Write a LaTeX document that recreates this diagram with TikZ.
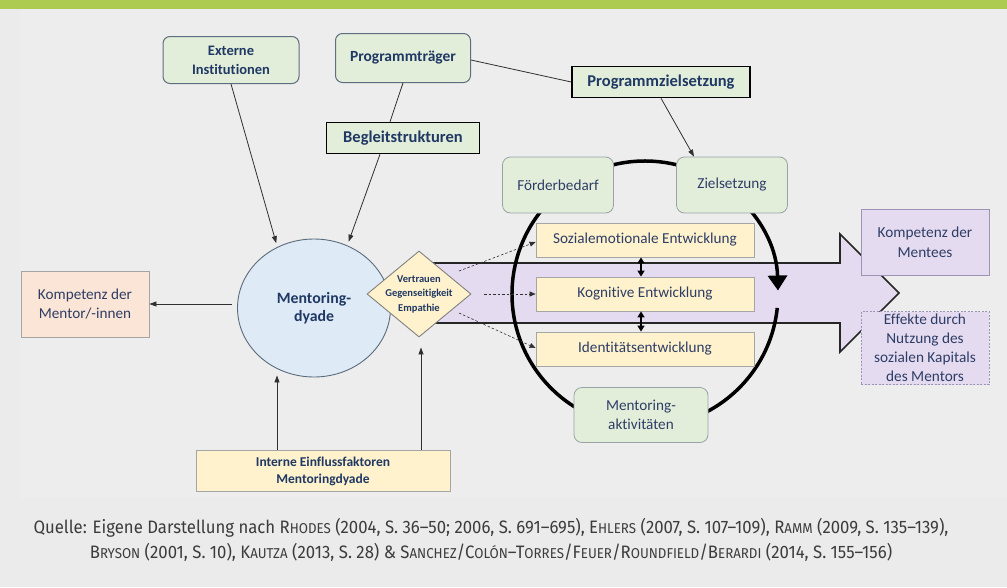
\documentclass[tikz,border=0pt]{standalone}
\usepackage{fontspec}
\setmainfont[Ligatures=NoCommon]{Carlito}
\newfontfamily\capfont[FakeStretch=0.93]{Fira Sans}
\usetikzlibrary{arrows.meta,shapes.geometric}
\definecolor{bgc}{HTML}{EBEBEB}
\definecolor{panel}{HTML}{EDEDED}
\definecolor{topbar}{HTML}{AECB51}
\definecolor{dk}{HTML}{1F3864}
\definecolor{tx}{HTML}{2E3D66}
\definecolor{grfill}{HTML}{E3EEDA}
\definecolor{grline}{HTML}{5E6E80}
\definecolor{grline2}{HTML}{98A3A6}
\definecolor{yel}{HTML}{FFF2CC}
\definecolor{yelline}{HTML}{A5A5A5}
\definecolor{blu}{HTML}{DEEBF7}
\definecolor{bluline}{HTML}{5B6B7B}
\definecolor{purp}{HTML}{E5DBF0}
\definecolor{purpline}{HTML}{9C93B5}
\definecolor{peach}{HTML}{FBE5D6}
\definecolor{capc}{HTML}{3C3C3C}
\definecolor{ln}{HTML}{303030}
\newcommand\ssc[1]{{\fontsize{14.3}{15}\selectfont #1}}
\pgfdeclarelayer{bg}\pgfdeclarelayer{mid}\pgfsetlayers{bg,mid,main}
\begin{document}
\begin{tikzpicture}[x=1pt,y=-1pt,
  every node/.style={inner sep=0pt, align=center},
  rgreen/.style={draw=grline, line width=1pt, fill=grfill, rounded corners=7pt, text=dk, font=\bfseries\fontsize{14.5}{19}\selectfont},
  rgreenl/.style={draw=grline2, line width=0.8pt, fill=grfill, rounded corners=8pt, text=tx, font=\fontsize{15.2}{19.5}\selectfont},
  sqgreen/.style={draw=black, line width=1.5pt, fill=grfill, text=dk, font=\bfseries\fontsize{16.5}{18}\selectfont},
  ybox/.style={draw=yelline, line width=0.8pt, fill=yel, text=tx, font=\fontsize{15.2}{18}\selectfont, minimum width=218pt, minimum height=34pt},
  pbox/.style={draw=purpline, line width=0.8pt, fill=purp, text=tx, font=\fontsize{15.3}{19.5}\selectfont, minimum width=128pt},
  conn/.style={draw=ln, line width=0.8pt, -{Triangle[length=7pt,width=5pt]}},
  plainline/.style={draw=ln, line width=0.8pt},
  dconn/.style={draw=ln, line width=0.6pt, dash pattern=on 2.5pt off 2pt, -{Triangle[length=6pt,width=5pt]}},
  dbl/.style={draw=black, line width=1.5pt, {Triangle[length=6pt,width=7pt]}-{Triangle[length=6pt,width=7pt]}},
]
\begin{pgfonlayer}{bg}
\fill[bgc] (0,0) rectangle (1007,587);
\fill[panel] (20,9) rectangle (1007,498);
\fill[topbar] (0,0) rectangle (1007,9);
\fill[purp] (425,263) -- (840,263) -- (840,234) -- (899,293) -- (840,352) -- (840,323) -- (425,323) -- cycle;
\draw[line width=1.6pt, draw=black!85] (425,263) -- (840,263) -- (840,234) -- (899,293) -- (840,352) -- (840,323) -- (425,323);
\end{pgfonlayer}
\begin{pgfonlayer}{mid}
\draw[line width=3.5pt, -{Triangle[length=15pt,width=19pt]}] (645,294) ++(6:133) arc[start angle=6, end angle=358.5, radius=133];
\end{pgfonlayer}

% nodes
\node[rgreen, minimum width=136pt, minimum height=47pt] (ext) at (231,60) {Externe\\Institutionen};
\node[rgreen, minimum width=135pt, minimum height=49pt, font=\bfseries\fontsize{15.5}{18}\selectfont] (prog) at (403,58) {Programmträger};
\node[sqgreen, minimum width=153pt, minimum height=31pt] (begl) at (403,138) {Begleitstrukturen};
\node[sqgreen, minimum width=178pt, minimum height=31pt] (pz) at (661,82) {Programmzielsetzung};
\node[rgreenl, minimum width=111pt, minimum height=56pt] (foerd) at (558,185) {Förderbedarf};
\node[rgreenl, minimum width=111pt, minimum height=56pt] (ziel) at (732,185) {Zielsetzung};
\node[rgreenl, minimum width=134pt, minimum height=55pt] (akt) at (641,415) {Mentoring-\\aktivitäten};
\node[ybox] (soz) at (645,240) {Sozialemotionale Entwicklung};
\node[ybox] (kog) at (645,294) {Kognitive Entwicklung};
\node[ybox] (ident) at (645,349) {Identitätsentwicklung};
\node[draw=bluline, line width=0.9pt, fill=blu, ellipse, minimum width=153pt, minimum height=138pt, text=dk, font=\bfseries\fontsize{15.8}{18.5}\selectfont] (dyade) at (314,308) {Mentoring-\\dyade};
\node[draw=black!50, line width=0.9pt, fill=yel, diamond, minimum width=104pt, minimum height=86pt,
  label={[text=dk, font=\bfseries\fontsize{10.5}{14.5}\selectfont, align=center]center:Vertrauen\\Gegenseitigkeit\\Empathie}] (dia) at (419,294) {};
\node[draw=yelline, line width=0.8pt, fill=peach, minimum width=128pt, minimum height=66pt, text=tx, font=\fontsize{15.2}{19.5}\selectfont] (kmentor) at (85,304) {Kompetenz der\\Mentor/-innen};
\node[draw=yelline, line width=0.8pt, fill=yel, minimum width=254pt, minimum height=41pt, text=dk, font=\bfseries\fontsize{13.5}{17}\selectfont] (intern) at (323,471) {Interne Einflussfaktoren\\Mentoringdyade};
\node[pbox, minimum height=66pt] (kmentee) at (925,242) {Kompetenz der\\Mentees};
\node[pbox, minimum height=73pt, dash pattern=on 2pt off 1.5pt, font=\fontsize{15.3}{19}\selectfont] (effekte) at (925,348) {Effekte durch\\Nutzung des\\sozialen Kapitals\\des Mentors};

% connectors
\draw[conn, shorten >=4pt] (ext.south) -- (dyade.121);
\draw[plainline] (prog.south) -- ([xshift=-13pt]begl.north);
\draw[conn, shorten >=4pt] ([xshift=-23pt]begl.south) -- (dyade.62);
\draw[plainline] ([yshift=-2pt]prog.east) -- (pz.west);
\draw[conn] (pz.south) -- ([xshift=-38pt]ziel.north);
\draw[conn, shorten <=5pt] (kmentor.east -| dyade.west) -- (kmentor.east);
\draw[conn] ([xshift=-46pt]intern.north) -- ([xshift=-37pt,yshift=2pt]dyade.south);
\draw[conn] ([xshift=98pt]intern.north) -- ([xshift=2pt,yshift=-10pt]dia.south);
\draw[dconn] ([xshift=40pt,yshift=23pt]dia.center) -- ([yshift=-2pt]soz.west);
\draw[dconn] ([xshift=65pt]dia.center) -- (kog.west);
\draw[dconn] ([xshift=40pt,yshift=-19pt]dia.center) -- ([yshift=1pt]ident.west);
\draw[dbl] ([xshift=-4pt]soz.south) -- ([xshift=-4pt]kog.north);
\draw[dbl] ([xshift=-4pt]kog.south) -- ([xshift=-4pt]ident.north);

\node[font=\capfont\fontsize{18}{25}\selectfont, text=capc] (cap) at (491,540) {Quelle: Eigene Darstellung nach R\ssc{HODES} (2004, S. 36–50; 2006, S. 691–695), E\ssc{HLERS} (2007, S. 107–109), R\ssc{AMM} (2009, S. 135–139),\\
B\ssc{RYSON} (2001, S. 10), K\ssc{AUTZA} (2013, S. 28) \& S\ssc{ANCHEZ}/C\ssc{OLÓN}–T\ssc{ORRES}/F\ssc{EUER}/R\ssc{OUNDFIELD}/B\ssc{ERARDI} (2014, S. 155–156)};
\end{tikzpicture}
\end{document}
